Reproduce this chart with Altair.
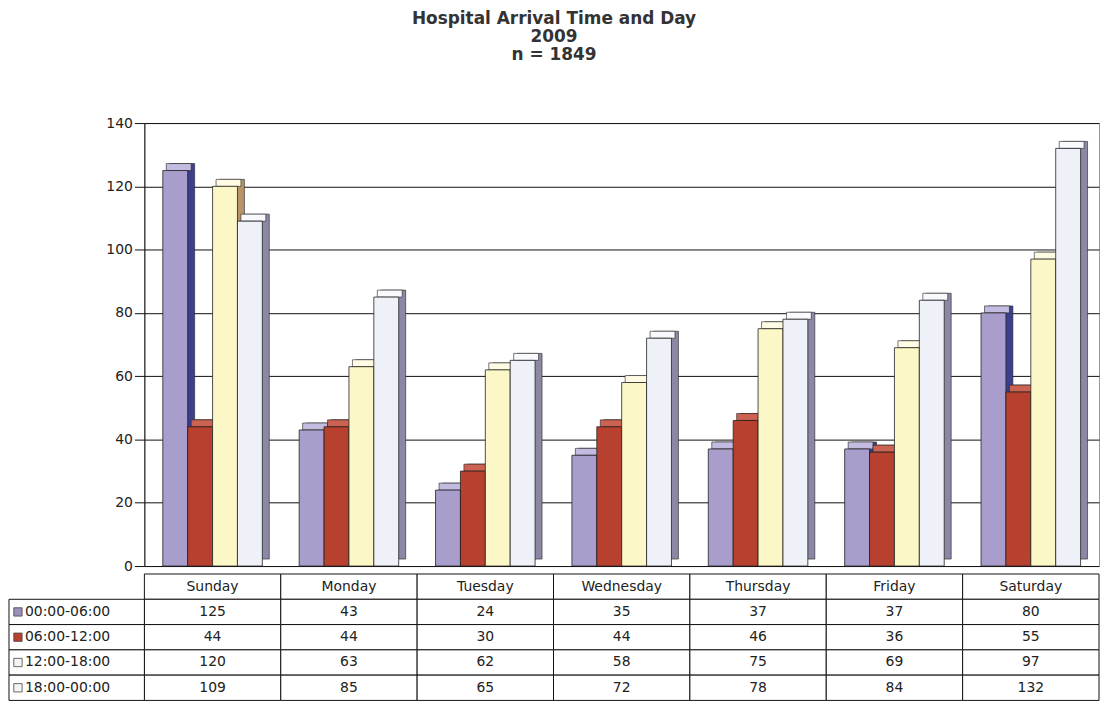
import altair as alt
import pandas as pd

# ---- data ----
days = ["Sunday", "Monday", "Tuesday", "Wednesday", "Thursday", "Friday", "Saturday"]
slots = ["00:00-06:00", "06:00-12:00", "12:00-18:00", "18:00-00:00"]
v_0006 = [125, 43, 24, 35, 37, 37, 80]
v_0612 = [44, 44, 30, 44, 46, 36, 55]
v_1218 = [120, 63, 62, 58, 75, 69, 97]
v_1800 = [109, 85, 65, 72, 78, 84, 132]
series = [v_0006, v_0612, v_1218, v_1800]
y_ticks = [0, 20, 40, 60, 80, 100, 120, 140]

front_colors = ["#a99dcb", "#b8402e", "#fcf7c6", "#eef1f8"]
top_colors = ["#c4bbe0", "#cc6252", "#fffbe4", "#f9fafd"]
side_colors = ["#3b3f8c", "#7e2418", "#b89468", "#8d87a6"]
legend_colors = ["#9a90bb", "#b8402e", "#f4f4f4", "#f4f4f4"]

FONT = "DejaVu Sans"
AXIS_EXT = 136
PLOT_W = 959
PAD_IN = 0.27
DEPTH = 7
band_w = PLOT_W / len(days) * (1 - PAD_IN)

rows = []
for s, fc, tc, sc, vals in zip(slots, front_colors, top_colors, side_colors, series):
    for d, v in zip(days, vals):
        rows.append({"day": d, "slot": s, "count": v, "front": fc, "top": tc, "side": sc})
df = pd.DataFrame(rows)

row_order = ["header"] + slots
cells = [{"day": d, "row": "header", "label": d} for d in days]
cells += [{"day": r["day"], "row": r["slot"], "label": str(r["count"])} for r in rows]
cells_df = pd.DataFrame(cells)
lab_df = pd.DataFrame({"row": slots, "color": legend_colors})

# ---- bar chart (with a simple 3-D look) ----
x_bar = alt.X("day:N", sort=days, axis=None,
              scale=alt.Scale(domain=days, paddingInner=PAD_IN, paddingOuter=PAD_IN / 2))


def xo(shift):
    return alt.XOffset("slot:N", sort=slots,
                       scale=alt.Scale(domain=slots, paddingInner=0,
                                       range=[shift, band_w + shift]))


y_bar = alt.Y("count:Q", scale=alt.Scale(domain=[0, 140], nice=False),
              axis=alt.Axis(values=y_ticks, grid=True, gridColor="#111", gridWidth=1,
                            domainColor="#111", tickColor="#111", tickSize=10,
                            labelFont=FONT, labelFontSize=14, labelColor="#222",
                            labelPadding=2, title=None,
                            minExtent=AXIS_EXT, maxExtent=AXIS_EXT))

side = alt.Chart(df).mark_bar(yOffset=-DEPTH, stroke="#222", strokeWidth=0.6).encode(
    x=x_bar, xOffset=xo(DEPTH), y=y_bar, color=alt.Color("side:N", scale=None))
top = alt.Chart(df).mark_bar(yOffset=-DEPTH, y2Offset=0, stroke="#222",
                             strokeWidth=0.6).encode(
    x=x_bar, xOffset=xo(DEPTH / 2), y=y_bar, y2=alt.Y2("count"),
    color=alt.Color("top:N", scale=None))
front = alt.Chart(df).mark_bar(stroke="#222", strokeWidth=0.8).encode(
    x=x_bar, xOffset=xo(0), y=y_bar, color=alt.Color("front:N", scale=None))

bars = alt.layer(side, top, front).resolve_scale(xOffset="independent").properties(
    width=PLOT_W, height=445, view=alt.ViewBackground(stroke="#999", strokeWidth=1))

# ---- data table ----
row_scale = alt.Scale(domain=row_order, paddingInner=0, paddingOuter=0)
tx = alt.X("day:N", sort=days, axis=None,
           scale=alt.Scale(domain=days, paddingInner=0, paddingOuter=0))
ty = alt.Y("row:N", axis=None, scale=row_scale)

tbl_rect = alt.Chart(cells_df).mark_rect(fill="white", stroke="#111", strokeWidth=1).encode(x=tx, y=ty)
tbl_text = alt.Chart(cells_df).mark_text(font=FONT, fontSize=14, color="#222").encode(
    x=tx, y=ty, text="label:N")

# row-label column, drawn to the left of the table cells
lab_rect = alt.Chart(lab_df).mark_rect(fill="white", stroke="#111", strokeWidth=1).encode(
    y=ty, x=alt.value(-AXIS_EXT), x2=alt.value(0))
lab_sq = alt.Chart(lab_df).mark_square(size=70, filled=True, opacity=1, stroke="#444",
                                       strokeWidth=0.8).encode(
    y=ty, x=alt.value(-AXIS_EXT + 9), color=alt.Color("color:N", scale=None))
lab_text = alt.Chart(lab_df).mark_text(font=FONT, fontSize=14, color="#222", align="left").encode(
    y=ty, x=alt.value(-AXIS_EXT + 16), text="row:N")

table = alt.layer(tbl_rect, tbl_text, lab_rect, lab_sq, lab_text).properties(
    width=PLOT_W, height=127)

chart = alt.vconcat(bars, table, spacing=-7).properties(
    title=alt.Title(["Hospital Arrival Time and Day", "2009", "n = 1849"],
                    font=FONT, fontSize=17, fontWeight="bold", color="#333",
                    lineHeight=18, anchor="middle", offset=52),
    padding={"left": 0, "top": 0, "right": 0, "bottom": 0},
    background="white",
).configure_view(strokeWidth=0)

chart.save("out.html", embed_options={"renderer": "svg", "actions": False})
